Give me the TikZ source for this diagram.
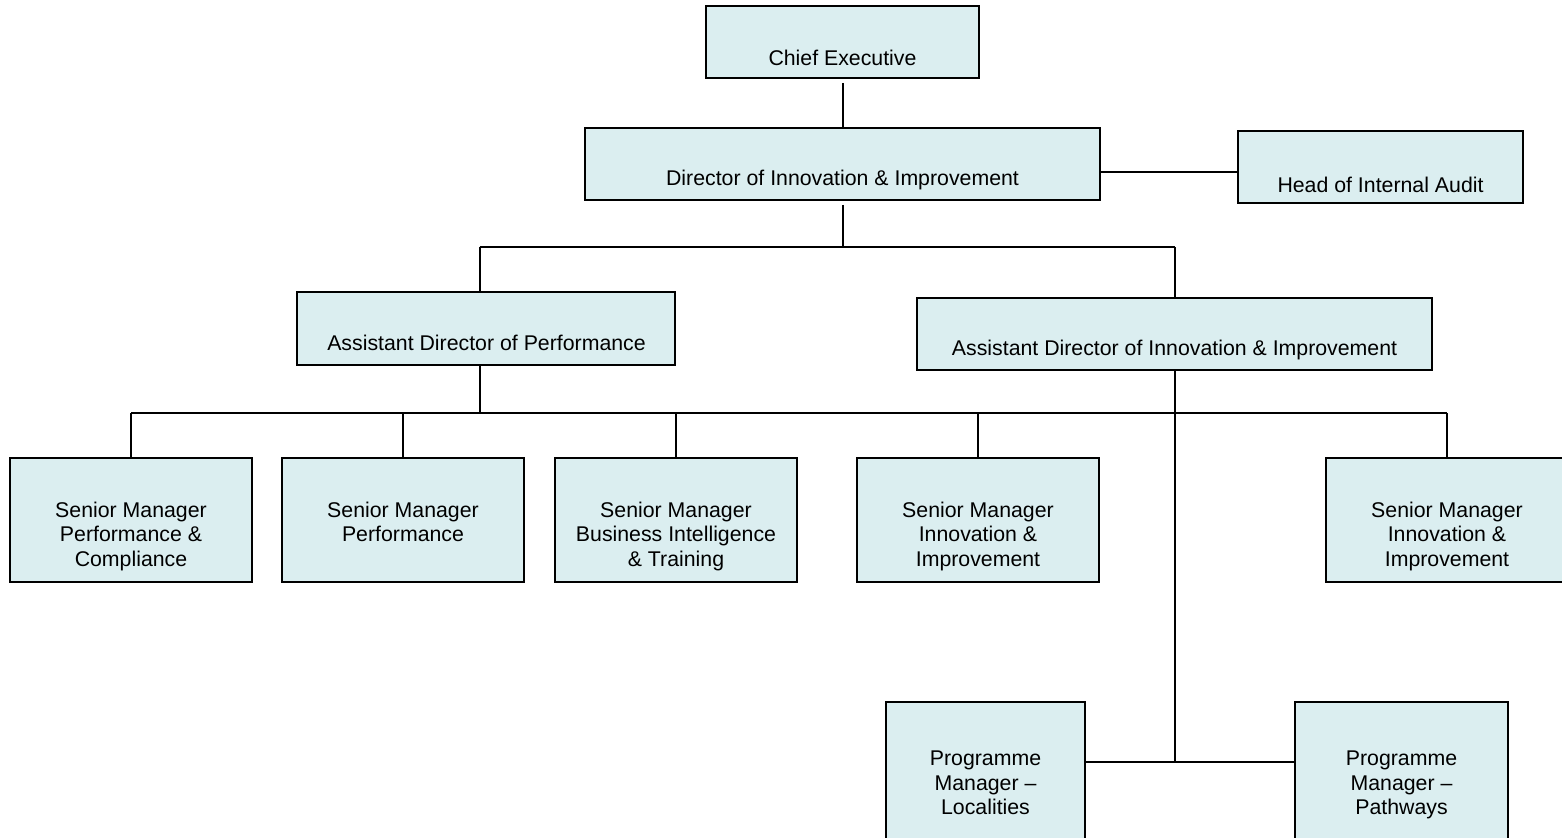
\documentclass[tikz,border=0pt]{standalone}
\usepackage{fontspec}
\setmainfont{Liberation Sans}
\usetikzlibrary{fit}
\definecolor{boxfill}{RGB}{219,238,240}
\tikzset{
  box/.style={draw=black, fill=boxfill, line width=1pt, inner sep=0pt, rectangle},
  txt/.style={inner sep=0pt, anchor=north, align=center, font=\fontsize{10.65pt}{12.4pt}\selectfont},
  link/.style={draw=black, line width=1pt}
}
\begin{document}
\begin{tikzpicture}[x=0.5pt, y=-0.5pt]
\useasboundingbox (0,0) rectangle (1562,838);
\clip (0,0) rectangle (1562,838);
% boxes
\node[box, fit={(706,6) (979,78)}] (ce) {};
\node[box, fit={(585,128) (1100,200)}] (dir) {};
\node[box, fit={(1238,131) (1523,203)}] (head) {};
\node[box, fit={(297,292) (675,365)}] (adp) {};
\node[box, fit={(917,298) (1432,370)}] (adi) {};
\node[box, fit={(10,458) (252,582)}] (sm1) {};
\node[box, fit={(282,458) (524,582)}] (sm2) {};
\node[box, fit={(555,458) (797,582)}] (sm3) {};
\node[box, fit={(857,458) (1099,582)}] (sm4) {};
\node[box, fit={(1326,458) (1568,582)}] (sm5) {};
\node[box, fit={(886,702) (1085,845)}] (pm1) {};
\node[box, fit={(1295,702) (1508,845)}] (pm2) {};
% texts
\node[txt] (ce-t) at (842.5,49.3) {Chief Executive};
\node[txt] (dir-t) at (842.5,169.3) {Director of Innovation \& Improvement};
\node[txt] (head-t) at (1380.5,176.3) {Head of Internal Audit};
\node[txt] (adp-t) at (486.5,334.3) {Assistant Director of Performance};
\node[txt] (adi-t) at (1174.5,339.3) {Assistant Director of Innovation \& Improvement};
\node[txt] (sm1-t) at (131,501.3) {Senior Manager\\Performance \&\\Compliance};
\node[txt] (sm2-t) at (403,501.3) {Senior Manager\\Performance};
\node[txt] (sm3-t) at (676,501.3) {Senior Manager\\Business Intelligence\\\& Training};
\node[txt] (sm4-t) at (978,501.3) {Senior Manager\\Innovation \&\\Improvement};
\node[txt] (sm5-t) at (1447,501.3) {Senior Manager\\Innovation \&\\Improvement};
\node[txt] (pm1-t) at (985.5,750.3) {Programme\\Manager –\\Localities};
\node[txt] (pm2-t) at (1401.5,750.3) {Programme\\Manager –\\Pathways};
% helper levels
\coordinate (l1) at (0,247);
\coordinate (l2) at (0,413);
\coordinate (lh) at (0,172);
\coordinate (lp) at (0,762);
\coordinate (xadp) at (479.5,0);
% connectors
\draw[link, shorten <=2pt] (ce.south) -- (dir.north);
\draw[link] (dir.east |- lh) -- (head.west |- lh);
\draw[link, shorten <=2pt] (dir.south) -- (dir.south |- l1);
\draw[link] (xadp |- l1) -- (adi.north |- l1);
\draw[link] (xadp |- l1) -- (xadp |- adp.north);
\draw[link] (adi.north |- l1) -- (adi.north);
\draw[link] (xadp |- adp.south) -- (xadp |- l2);
\draw[link] (sm1.north |- l2) -- (sm5.north |- l2);
\draw[link] (sm1.north |- l2) -- (sm1.north);
\draw[link] (sm2.north |- l2) -- (sm2.north);
\draw[link] (sm3.north |- l2) -- (sm3.north);
\draw[link] (sm4.north |- l2) -- (sm4.north);
\draw[link] (sm5.north |- l2) -- (sm5.north);
\draw[link] (adi.south) -- (adi.south |- lp);
\draw[link] (pm1.east |- lp) -- (pm2.west |- lp);
\end{tikzpicture}
\end{document}
